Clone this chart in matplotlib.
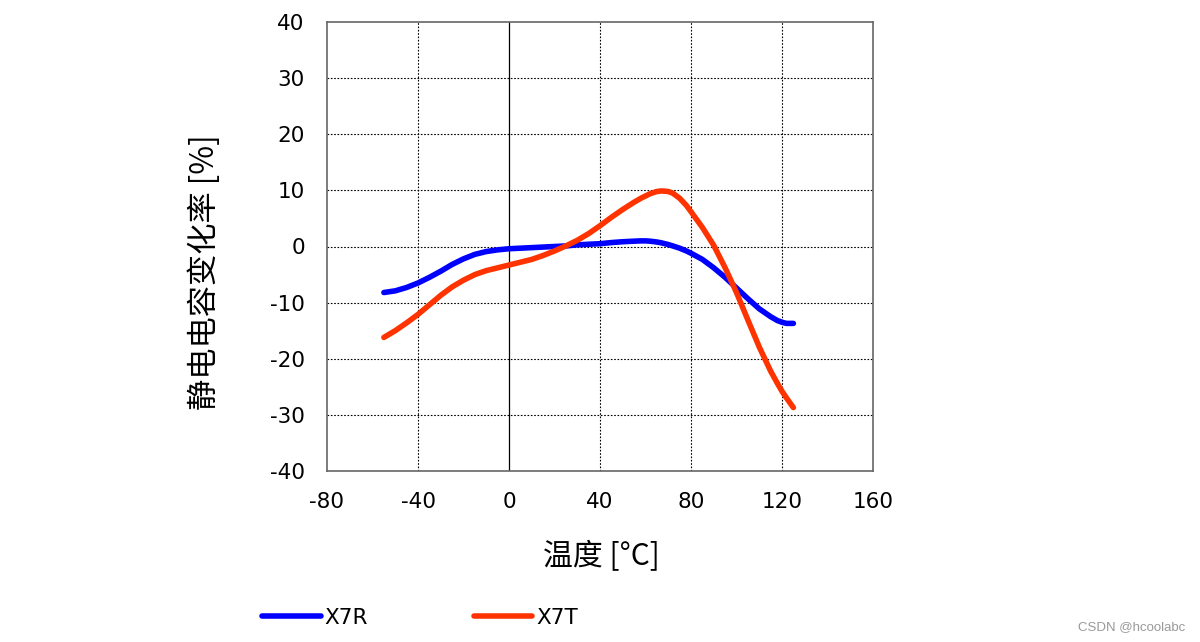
import matplotlib
matplotlib.use("Agg")
import matplotlib.pyplot as plt

plt.rcParams['font.family'] = ['DejaVu Sans', 'Noto Sans CJK SC']
plt.rcParams['axes.unicode_minus'] = False

temps = [-55, -50, -45, -40, -35, -30, -25, -20, -15, -10, -5, 0, 5, 10, 15, 20, 25, 30,
         35, 40, 45, 50, 55, 58, 60, 62, 65, 67, 70, 72, 75, 78, 80, 85, 90, 95, 100, 105,
         110, 115, 118, 120, 122, 125]
x7r = [-8.2, -7.9, -7.3, -6.5, -5.5, -4.4, -3.2, -2.2, -1.4, -0.9, -0.6, -0.4, -0.3, -0.2,
       -0.1, 0.0, 0.1, 0.3, 0.4, 0.5, 0.7, 0.85, 0.95, 1.0, 1.0, 0.95, 0.8, 0.65, 0.35, 0.1,
       -0.3, -0.8, -1.2, -2.3, -3.8, -5.5, -7.4, -9.3, -11.1, -12.5, -13.2, -13.5, -13.7, -13.7]
x7t = [-16.2, -15.0, -13.6, -12.1, -10.4, -8.7, -7.2, -6.0, -5.0, -4.3, -3.8, -3.3, -2.8,
       -2.3, -1.6, -0.8, 0.1, 1.1, 2.3, 3.7, 5.2, 6.6, 7.9, 8.6, 9.0, 9.4, 9.8, 9.9, 9.8, 9.5,
       8.6, 7.3, 6.2, 3.4, 0.2, -3.8, -8.2, -13.1, -17.9, -22.2, -24.4, -25.8, -27.0, -28.7]
xticks = [-80, -40, 0, 40, 80, 120, 160]
yticks = [-40, -30, -20, -10, 0, 10, 20, 30, 40]
series_names = ['X7R', 'X7T']
series_colors = ['#0000FF', '#FF3300']

fig = plt.figure(figsize=(12, 6.42), dpi=100)
ax = fig.add_axes([327/1200, 1-471/642, 546/1200, 449/642])

for xv in xticks[1:-1]:
    if xv == 0:
        ax.axvline(xv, color='black', lw=0.9, ls='-', zorder=1)
    else:
        ax.axvline(xv, color='black', lw=0.8, ls=(0, (1.5, 1.5)), zorder=1)
for yv in yticks[1:-1]:
    ax.axhline(yv, color='black', lw=0.8, ls=(0, (1.5, 1.5)), zorder=1)

l1, = ax.plot(temps, x7r, color=series_colors[0], lw=4, solid_capstyle='round',
              solid_joinstyle='round', zorder=3, label=series_names[0])
l2, = ax.plot(temps, x7t, color=series_colors[1], lw=4, solid_capstyle='round',
              solid_joinstyle='round', zorder=3, label=series_names[1])

ax.set_xlim(-80, 160)
ax.set_ylim(-40, 40)
ax.set_xticks(xticks)
ax.set_yticks(yticks)
ax.tick_params(length=0, labelsize=15.5, colors='black')
ax.tick_params(axis='y', pad=16)
ax.tick_params(axis='x', pad=15)
for s in ax.spines.values():
    s.set_color('#666666')
    s.set_linewidth(1.2)

fig.text(205/1200, 1-272/642, '静电电容变化率 [%]', rotation=90, ha='center', va='center',
         fontsize=22.5, family=['Noto Sans CJK SC', 'DejaVu Sans'])
fig.text(601/1200, 1-557/642, '温度 [°C]', ha='center', va='center',
         fontsize=21.5, family=['Noto Sans CJK SC', 'DejaVu Sans'])

fig.legend(handles=[l1, l2], loc='center left', bbox_to_anchor=(243/1200, 1-618/642),
           ncol=2, frameon=False, fontsize=15.5, handlelength=2.7, handletextpad=0.2,
           columnspacing=4.9)

fig.text(1185/1200, 1-627/642, 'CSDN @hcoolabc', ha='right', va='center', fontsize=9.5,
         color='#999999', family=['Liberation Sans', 'DejaVu Sans'])

fig.savefig('out.png', dpi=100)
